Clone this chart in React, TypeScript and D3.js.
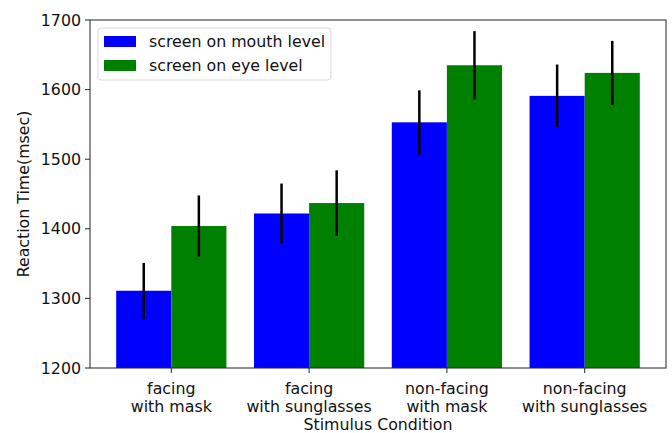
import React from "react";
import * as d3 from "d3";

const categories = [
  ["facing", "with mask"],
  ["facing", "with sunglasses"],
  ["non-facing", "with mask"],
  ["non-facing", "with sunglasses"],
];
const seriesNames = ["screen on mouth level", "screen on eye level"];
const seriesColors = ["#0000ff", "#008000"];
const mouthMeans = [1311, 1422, 1553, 1591];
const mouthErrors = [40, 43, 46, 45];
const eyeMeans = [1404, 1437, 1635, 1624];
const eyeErrors = [44, 47, 49, 46];
const yTicks = [1200, 1300, 1400, 1500, 1600, 1700];

const W = 672;
const H = 433;
const margin = { left: 90, right: 6, top: 20, bottom: 65 };
const FONT = "'DejaVu Sans', sans-serif";
const FS = 15.8;

export default function App() {
  const x0 = margin.left;
  const x1 = W - margin.right;
  const y0 = H - margin.bottom;
  const y1 = margin.top;
  const barW = 0.4;
  const x = d3.scaleLinear().domain([-0.59, 3.59]).range([x0, x1]);
  const y = d3.scaleLinear().domain([1200, 1700]).range([y0, y1]);
  const series = [
    { means: mouthMeans, errs: mouthErrors, offset: -barW / 2 },
    { means: eyeMeans, errs: eyeErrors, offset: barW / 2 },
  ];
  const bw = x(barW) - x(0);
  return (
    <svg width={W} height={H} style={{ position: "absolute", left: 0, top: 0, background: "#fff" }}>
      {series.map((s, si) =>
        s.means.map((m, i) => {
          const cx = x(i + s.offset);
          return (
            <rect key={`b${si}-${i}`} x={cx - bw / 2} y={y(m)} width={bw} height={y0 - y(m)} fill={seriesColors[si]} />
          );
        })
      )}
      {series.map((s, si) =>
        s.means.map((m, i) => {
          const cx = x(i + s.offset);
          return (
            <line key={`e${si}-${i}`} x1={cx} x2={cx} y1={y(m + s.errs[i])} y2={y(m - s.errs[i])} stroke="#000" strokeWidth={2.5} />
          );
        })
      )}
      <rect x={x0} y={y1} width={x1 - x0} height={y0 - y1} fill="none" stroke="#222" strokeWidth={1} />
      {yTicks.map((t) => (
        <g key={t}>
          <line x1={x0 - 5} x2={x0} y1={y(t)} y2={y(t)} stroke="#222" />
          <text x={x0 - 9} y={y(t)} dy="0.36em" textAnchor="end" fontFamily={FONT} fontSize={FS} fill="#111">
            {t}
          </text>
        </g>
      ))}
      {categories.map((c, i) => (
        <g key={i}>
          <line x1={x(i)} x2={x(i)} y1={y0} y2={y0 + 5} stroke="#222" />
          {c.map((line, li) => (
            <text key={li} x={x(i)} y={y0 + 26 + li * 17.5} textAnchor="middle" fontFamily={FONT} fontSize={FS} fill="#111">
              {line}
            </text>
          ))}
        </g>
      ))}
      <text x={(x0 + x1) / 2} y={H - 3} textAnchor="middle" fontFamily={FONT} fontSize={FS} fill="#111">
        Stimulus Condition
      </text>
      <text
        transform={`translate(${29},${(y0 + y1) / 2}) rotate(-90)`}
        textAnchor="middle"
        fontFamily={FONT}
        fontSize={FS}
        fill="#111"
      >
        Reaction Time(msec)
      </text>
      <g>
        <rect x={98} y={28} width={233} height={52} rx={3} fill="#fff" fillOpacity={0.8} stroke="#d8d8d8" />
        {seriesNames.map((n, i) => (
          <g key={n}>
            <rect x={104} y={36 + i * 24} width={32} height={11} fill={seriesColors[i]} />
            <text x={149} y={41.5 + i * 24} dy="0.36em" fontFamily={FONT} fontSize={FS} fill="#111">
              {n}
            </text>
          </g>
        ))}
      </g>
    </svg>
  );
}
